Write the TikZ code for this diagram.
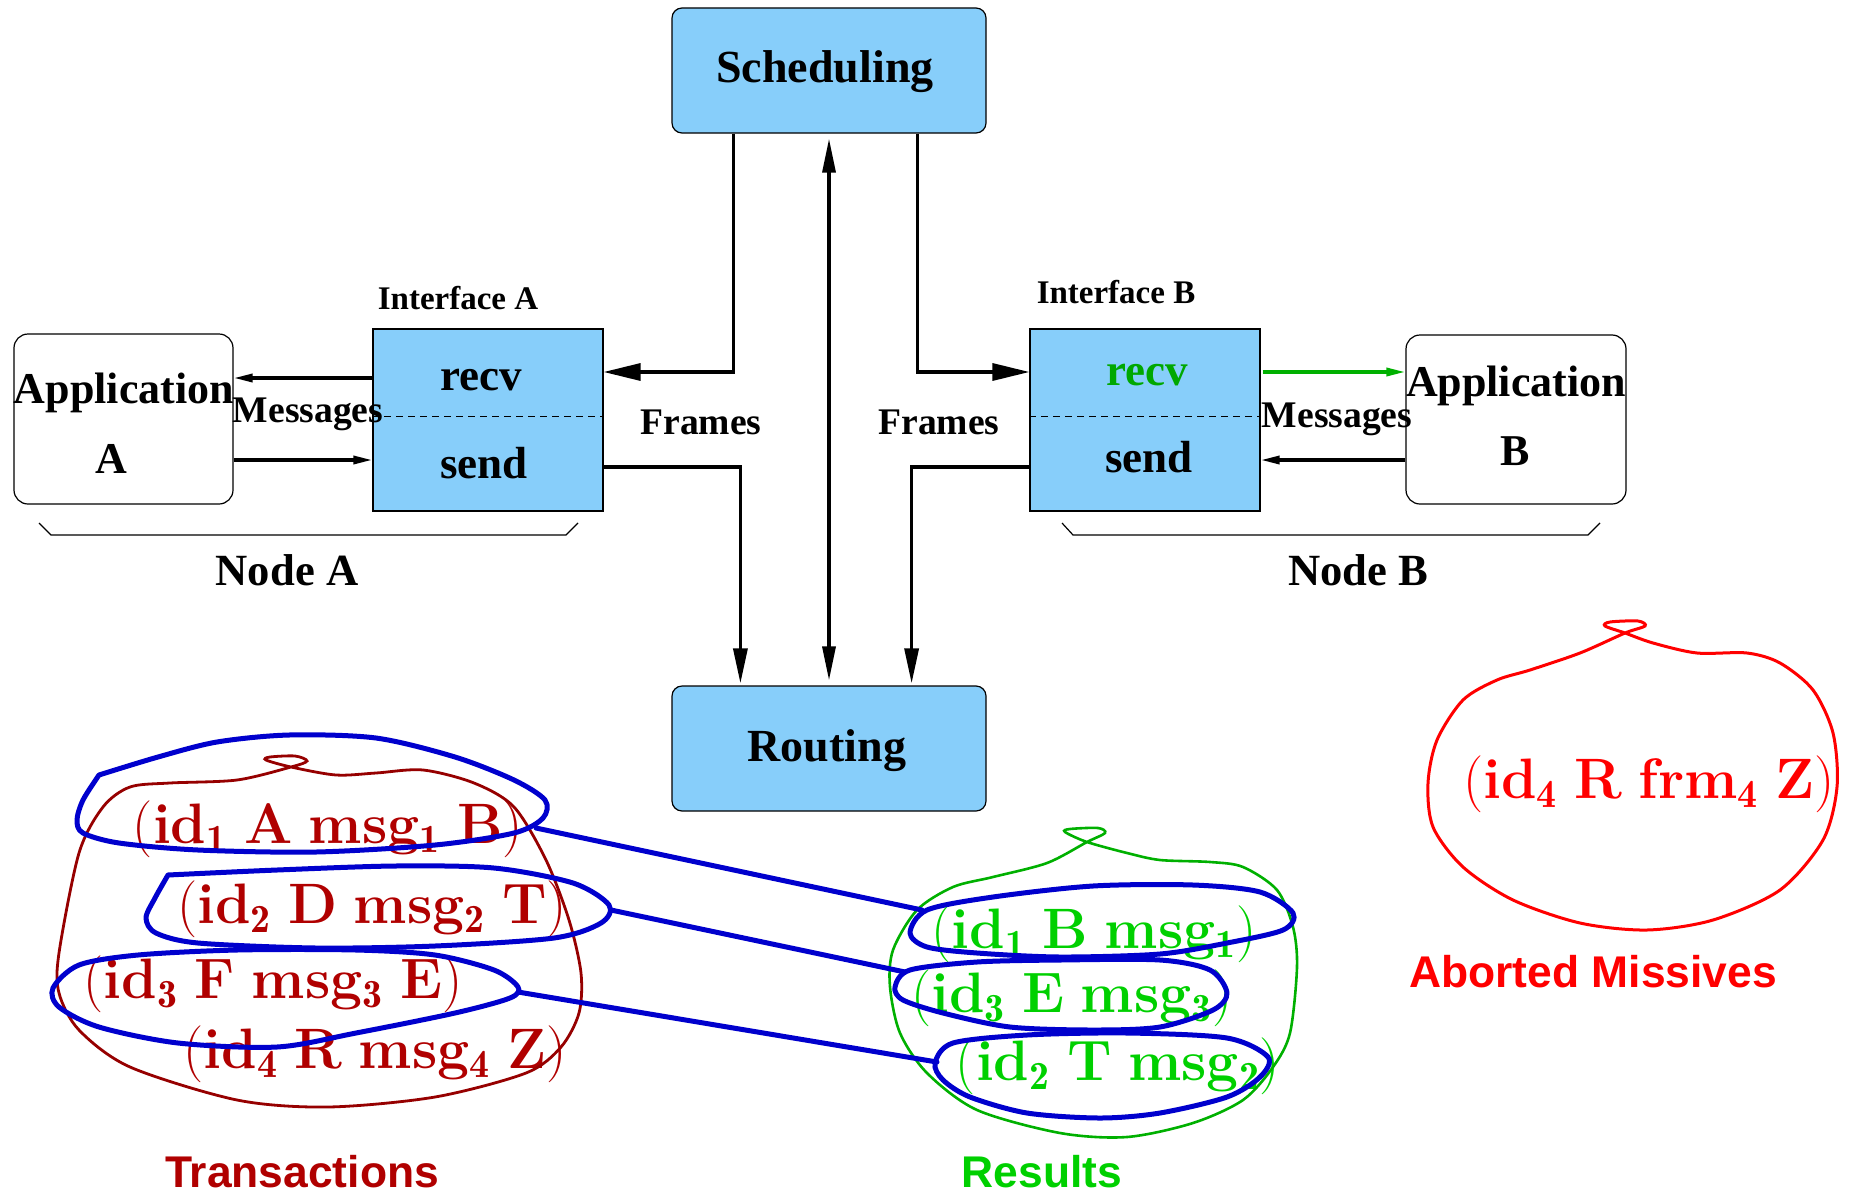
\documentclass[tikz,border=0pt]{standalone}
\usepackage{fontspec}
\newfontfamily\tms{Liberation Serif}
\newfontfamily\hlv{Liberation Sans}
\usetikzlibrary{arrows.meta}
\definecolor{boxblue}{RGB}{135,206,250}
\definecolor{rthree}{RGB}{176,0,0}
\definecolor{rfour}{RGB}{150,0,0}
\definecolor{gthree}{RGB}{0,168,0}
\definecolor{gtwo}{RGB}{0,208,0}
\definecolor{gblob}{RGB}{0,176,0}
\definecolor{btwo}{RGB}{0,0,205}
\definecolor{abred}{RGB}{255,0,0}
\newcommand\tup[1]{{\normalfont\mdseries(}{\bfseries\spaceskip=0.29em\relax #1}{\normalfont\mdseries)}}
\newcommand\sbs[1]{$_{\mathbf{#1}}$}
\begin{document}
\begin{tikzpicture}[x=0.5pt,y=-0.5pt,
  tbox/.style={draw, line width=0.6pt, fill=boxblue, inner sep=0pt},
  appbox/.style={draw, line width=0.6pt, rounded corners=7pt, inner sep=0pt},
  tl/.style={anchor=base, inner sep=0pt},
  big/.style={tl, font=\tms\bfseries\fontsize{23pt}{26pt}\selectfont},
  mid/.style={tl, font=\tms\bfseries\fontsize{22.5pt}{25pt}\selectfont},
  lab/.style={tl, font=\tms\bfseries\fontsize{18.8pt}{21pt}\selectfont},
  small/.style={tl, font=\tms\bfseries\fontsize{16.5pt}{19pt}\selectfont},
  tupl/.style={tl, font=\fontsize{28.5pt}{32pt}\selectfont},
  sans/.style={tl, font=\hlv\bfseries\fontsize{22.2pt}{25pt}\selectfont},
  bigarr/.style={line width=1.65pt, -{Triangle[length=18.5pt,width=8.5pt]}},
  vertarr/.style={line width=1.65pt, -{Triangle[length=17.5pt,width=7pt]}},
  dblarr/.style={line width=1.65pt, {Triangle[length=17pt,width=6.5pt]}-{Triangle[length=17pt,width=6.5pt]}},
  smallarr/.style={line width=1.65pt, -{Triangle[length=9.5pt,width=4pt]}},
  ell/.style={draw=btwo, line width=2.5pt, line join=round, line cap=round},
  brace/.style={line width=0.6pt},
]
\useasboundingbox (0,0) rectangle (1850,1193);

% main boxes
\node[tbox, rounded corners=5pt, minimum width=157pt, minimum height=62.5pt] (sched) at (829,70.5) {};
\node[big] (schedT) at (825,83) {Scheduling};
\node[tbox, rounded corners=5pt, minimum width=157pt, minimum height=62.5pt] (rout) at (829,748.5) {};
\node[big] (routT) at (827,761) {Routing};

\node[tbox, minimum width=115pt, minimum height=91pt] (ifA) at (488,420) {};
\node[tbox, minimum width=115pt, minimum height=91pt] (ifB) at (1145,420) {};
\draw[dash pattern=on 3.5pt off 2.5pt, line width=0.5pt] ([yshift=2pt]ifA.west) -- ([yshift=2pt]ifA.east);
\draw[dash pattern=on 3.5pt off 2.5pt, line width=0.5pt] ([yshift=2pt]ifB.west) -- ([yshift=2pt]ifB.east);
\node[mid] (recvA) at (481,390) {recv};
\node[mid] (sendA) at (484,478) {send};
\node[mid, text=gthree] (recvB) at (1147,385) {recv};
\node[mid] (sendB) at (1149,472) {send};

\node[appbox, minimum width=109.5pt, minimum height=85pt] (appA) at (123.5,419) {};
\node[appbox, minimum width=110pt, minimum height=84.5pt] (appB) at (1516,419.5) {};
\node[mid, font=\tms\bfseries\fontsize{22pt}{25pt}\selectfont] (appAt) at (124,403) {Application};
\node[mid, font=\tms\bfseries\fontsize{22pt}{25pt}\selectfont] (appAa) at (111,473) {A};
\node[mid, font=\tms\bfseries\fontsize{22pt}{25pt}\selectfont] (appBt) at (1516,396) {Application};
\node[mid, font=\tms\bfseries\fontsize{22pt}{25pt}\selectfont] (appBb) at (1515,465) {B};

\node[lab] (msgA) at (308,422) {Messages};
\node[lab] (msgB) at (1337,427) {Messages};
\node[lab] (frA) at (701,434) {Frames};
\node[lab] (frB) at (939,434) {Frames};
\node[small] (ifAT) at (458,309) {Interface A};
\node[small] (ifBT) at (1116,303) {Interface B};
\node[mid, font=\tms\bfseries\fontsize{22.3pt}{25pt}\selectfont] (nodeA) at (287,585) {Node A};
\node[mid, font=\tms\bfseries\fontsize{22.3pt}{25pt}\selectfont] (nodeB) at (1358,585) {Node B};

% braces
\draw[brace] (39,523) -- (51,535) -- (566,535) -- (578,523);
\draw[brace] (1062,523) -- (1073,535) -- (1588,535) -- (1600,523);

% connectors
\draw[bigarr] ([xshift=31pt]sched.south west) |- ([yshift=24pt]ifA.east);
\draw[bigarr] ([xshift=-34.5pt]sched.south east) |- ([yshift=24pt]ifB.west);
\draw[vertarr] ([yshift=-23.5pt]ifA.east) -| ([xshift=34.5pt,yshift=1pt]rout.north west);
\draw[vertarr] ([yshift=-23.5pt]ifB.west) -| ([xshift=-37.5pt,yshift=1pt]rout.north east);
\draw[dblarr] ([yshift=-2.5pt]sched.south) -- ([yshift=2.5pt]rout.north);

\draw[smallarr] ([yshift=21pt]ifA.west) -- ([yshift=21pt]ifA.west -| appA.east);
\draw[smallarr] ([yshift=-20pt]ifA.west -| appA.east) -- ([yshift=-20pt]ifA.west);
\draw[smallarr, draw=gblob, fill=gblob] ([xshift=1pt,yshift=24pt]ifB.east) -- ([yshift=24pt]ifB.east -| appB.west);
\draw[smallarr] ([yshift=-20pt]ifB.east -| appB.west) -- ([yshift=-20pt]ifB.east);

% tuples
\begin{scope}[text=rthree]
\node[tupl] (t1) at (328,843) {\tup{id\sbs1 A msg\sbs1 B}};
\node[tupl] (t2) at (372,923) {\tup{id\sbs2 D msg\sbs2 T}};
\node[tupl] (t3) at (273,998) {\tup{id\sbs3 F msg\sbs3 E}};
\node[tupl] (t4) at (375,1068) {\tup{id\sbs4 R msg\sbs4 Z}};
\node[sans] (trans) at (302,1187) {Transactions};
\end{scope}
\begin{scope}[text=gtwo]
\node[tupl] (r1) at (1094,948) {\tup{id\sbs1 B msg\sbs1}};
\node[tupl] (r2) at (1072,1012) {\tup{id\sbs3 E msg\sbs3}};
\node[tupl] (r3) at (1118,1080) {\tup{id\sbs2 T msg\sbs2}};
\node[sans] (res) at (1042,1187) {Results};
\end{scope}
\node[tupl, text=abred] (ab) at (1649,798) {\tup{id\sbs4 R frm\sbs4 Z}};
\node[sans, text=abred] (abl) at (1593,987) {Aborted Missives};

% blobs
\draw[rfour, line width=1.4pt] plot[smooth cycle] coordinates {(291,767) (336,775) (376,773) (423,770) (474,783) (514,807) (546,860) (569,920) (581,973) (579,1013) (561,1047) (526,1073) (435,1097) (328,1107) (237,1100) (130,1067) (79,1030) (59,993) (59,953) (79,853) (103,807) (130,787) (170,783) (237,780) (291,767) (307,761) (295,756) (270,757) (266,760)};
\draw[gblob, line width=1.3pt] plot[smooth cycle] coordinates {(1087,842) (1127,853) (1160,860) (1210,862) (1243,867) (1277,890) (1293,927) (1297,967) (1290,1033) (1273,1067) (1243,1100) (1193,1123) (1127,1137) (1060,1133) (977,1110) (927,1073) (900,1033) (890,987) (893,950) (917,910) (953,887) (993,877) (1047,863) (1087,842) (1105,833) (1098,828) (1070,829) (1065,832)};
\draw[abred, line width=1.5pt] plot[smooth cycle] coordinates {(1625,633) (1653,643) (1697,653) (1747,653) (1780,663) (1813,690) (1833,733) (1837,787) (1823,840) (1780,890) (1713,920) (1647,930) (1580,923) (1513,900) (1463,867) (1433,827) (1428,783) (1437,740) (1463,700) (1497,680) (1530,670) (1580,653) (1625,633) (1645,626) (1638,621) (1610,622) (1605,626)};

% blue ellipses
\draw[ell] plot[smooth] coordinates {(99,775) (158,757) (217,742) (289,735) (376,738) (455,757) (514,780) (545,800) (543,818) (514,833) (435,845) (316,852) (198,850) (119,843) (83,833) (77,820) (83,800) (99,775)};
\draw[ell] plot[smooth] coordinates {(168,875) (277,870) (395,866) (494,868) (573,883) (609,905) (601,923) (554,938) (435,946) (316,948) (198,943) (156,933) (146,918) (155,898) (168,875)};
\draw[ell] plot[smooth cycle] coordinates {(53,988) (79,965) (138,955) (237,950) (356,950) (435,955) (494,970) (518,987) (510,998) (455,1013) (356,1033) (277,1047) (178,1043) (99,1027) (59,1007)};
\draw[ell] plot[smooth cycle] coordinates {(910,933) (927,910) (993,897) (1093,886) (1193,885) (1260,892) (1293,913) (1283,930) (1227,943) (1160,954) (1060,957) (977,953) (927,947)};
\draw[ell] plot[smooth cycle] coordinates {(895,987) (910,970) (977,962) (1060,960) (1160,960) (1210,970) (1227,993) (1213,1010) (1160,1027) (1093,1030) (1010,1027) (943,1013) (903,1000)};
\draw[ell] plot[smooth cycle] coordinates {(935,1063) (953,1043) (1027,1035) (1127,1033) (1227,1038) (1268,1057) (1260,1077) (1227,1097) (1160,1113) (1100,1118) (1027,1113) (970,1097) (943,1080)};

% blue links
\coordinate (e1r) at (536,828);
\coordinate (e2r) at (611,910);
\coordinate (e3r) at (518,992);
\coordinate (f1l) at (922,910);
\coordinate (f2l) at (905,972);
\coordinate (f3l) at (937,1062);
\draw[ell] (e1r) -- (f1l);
\draw[ell] (e2r) -- (f2l);
\draw[ell] (e3r) -- (f3l);
\end{tikzpicture}
\end{document}
